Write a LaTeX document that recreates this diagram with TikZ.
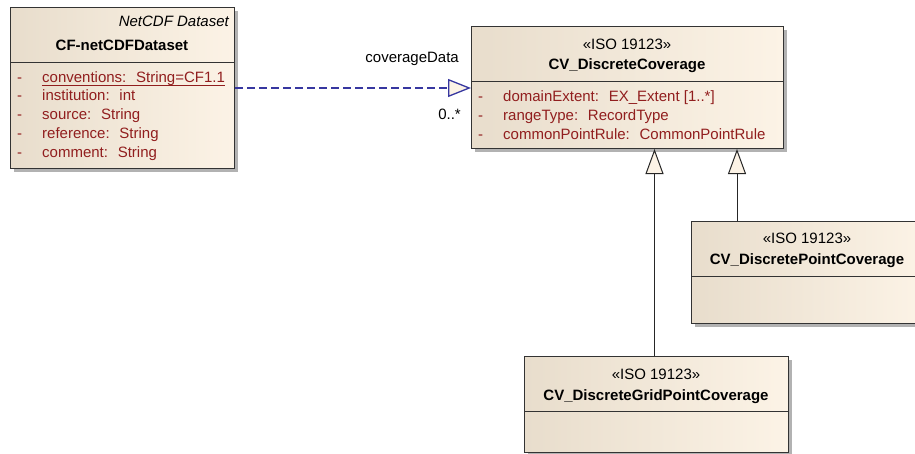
\documentclass[tikz,border=0pt]{standalone}
\usepackage{fontspec}
\setmainfont{Liberation Sans}
\usetikzlibrary{arrows.meta,shadows}

\definecolor{attrred}{RGB}{145,30,30}
\definecolor{linkblue}{RGB}{55,55,160}
\definecolor{tanleft}{RGB}{232,221,204}
\definecolor{tanright}{RGB}{252,243,230}

\tikzset{
  classbox/.style={draw=black!80, line width=1pt, anchor=north west, inner sep=0pt,
    left color=tanleft, right color=tanright,
    drop shadow={shadow xshift=3pt, shadow yshift=-3pt, fill=black!30, opacity=1}},
  sepline/.style={draw=black!80, line width=1pt},
  title/.style={anchor=base, inner sep=0pt, font=\fontsize{15}{18}\selectfont\bfseries},
  stereo/.style={anchor=base, inner sep=0pt, font=\fontsize{15}{18}\selectfont},
  attr/.style={anchor=base west, inner sep=0pt, text=attrred, font=\fontsize{15}{18}\selectfont},
  lbl/.style={anchor=base east, inner sep=0pt, font=\fontsize{15}{18}\selectfont},
  inherit/.style={draw=black!85, line width=1pt, -{Triangle[open, length=25pt, width=18pt, fill=tanright]}},
  realize/.style={draw=linkblue, line width=1.3pt, dash pattern=on 8pt off 4pt,
    -{Triangle[open, length=23pt, width=18pt, fill=tanright]}}
}

\begin{document}
\begin{tikzpicture}[x=1pt,y=-1pt]
\useasboundingbox (0,0) rectangle (915,453);
\clip (0,0) rectangle (915,453);

% CF-netCDFDataset
\node[classbox, minimum width=224pt, minimum height=161pt] (ds) at (10,7) {};
\draw[sepline] (ds.west |- 0,62) -- (ds.east |- 0,62);
\node[stereo, anchor=base east] (dsst) at (229,26) {\itshape NetCDF Dataset};
\node[title] (dsname) at (122,50) {CF-netCDFDataset};
\node[attr] (dsd1) at (17,82) {-};
\node[attr] (conv) at (42,82) {conventions:~ String=CF1.1};
\draw[attrred, line width=1.3pt] (conv.south west) -- (conv.south east);
\node[attr] (dsd2) at (17,100.75) {-};
\node[attr] (inst) at (42,100.75) {institution:~ int};
\node[attr] (dsd3) at (17,119.5) {-};
\node[attr] (src) at (42,119.5) {source:~ String};
\node[attr] (dsd4) at (17,138.25) {-};
\node[attr] (ref) at (42,138.25) {reference:~ String};
\node[attr] (dsd5) at (17,157) {-};
\node[attr] (cmt) at (42,157) {comment:~ String};

% CV_DiscreteCoverage
\node[classbox, minimum width=312pt, minimum height=122pt] (cov) at (471,26) {};
\draw[sepline] (cov.west |- 0,81) -- (cov.east |- 0,81);
\node[stereo] (covst) at (627,49) {«ISO 19123»};
\node[title] (covname) at (627,69) {CV\_DiscreteCoverage};
\node[attr] (covd1) at (478,101) {-};
\node[attr] (dom) at (503,101) {domainExtent:~ EX\_Extent [1..*]};
\node[attr] (covd2) at (478,120) {-};
\node[attr] (rng) at (503,120) {rangeType:~ RecordType};
\node[attr] (covd3) at (478,139) {-};
\node[attr] (cpr) at (503,139) {commonPointRule:~ CommonPointRule};

% CV_DiscretePointCoverage
\node[classbox, minimum width=232pt, minimum height=102pt] (pt) at (691,221) {};
\draw[sepline] (pt.west |- 0,276) -- (pt.east |- 0,276);
\node[stereo] (ptst) at (807,243) {«ISO 19123»};
\node[title] (ptname) at (807,264) {CV\_DiscretePointCoverage};

% CV_DiscreteGridPointCoverage
\node[classbox, minimum width=264pt, minimum height=96pt] (grid) at (524,356) {};
\draw[sepline] (grid.west |- 0,411) -- (grid.east |- 0,411);
\node[stereo] (gridst) at (656,379) {«ISO 19123»};
\node[title] (gridname) at (656,400) {CV\_DiscreteGridPointCoverage};

% connectors
\draw[realize] (ds.east) -- (ds.east -| cov.west);
\node[lbl] (role) at (459,62) {coverageData};
\node[lbl] (mult) at (461,119) {0..*};
\draw[inherit] ([xshift=-2pt]grid.north) -- ([xshift=-2pt]grid.north |- cov.south);
\draw[inherit] ([xshift=46pt]pt.north west) -- ([xshift=46pt]pt.north west |- cov.south);
\end{tikzpicture}
\end{document}
